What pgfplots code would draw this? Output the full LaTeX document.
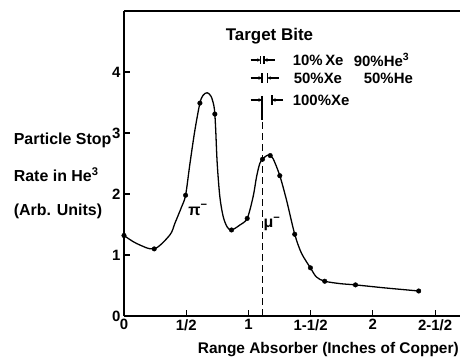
\documentclass[border=0pt]{standalone}
\usepackage{pgfplots}
\pgfplotsset{compat=1.18}
\usepackage{fontspec}
\setmainfont{Liberation Sans}
\usetikzlibrary{arrows.meta}
\begin{document}
\begin{tikzpicture}
\begin{axis}[at={(0,0)}, anchor=south west, scale only axis,
  width=336bp, height=305bp,
  xmin=0, xmax=2.7, ymin=0, ymax=5,
  axis lines=left, axis line style={-, line width=1.3pt},
  tick align=inside, major tick length=6bp,
  tick style={line width=1.1pt, black},
  xtick={0,0.5,1,1.5,2,2.5}, xticklabels={0,1/2,1,1-1/2,2,2-1/2},
  ytick={0,1,2,3,4}, yticklabels={0,1,2,3,4},
  ticklabel style={font=\fontsize{15}{17}\selectfont\bfseries},
  clip=false]
\draw[line width=1.3pt] (rel axis cs:0,1) -- (rel axis cs:1,1);
\addplot[smooth, tension=0.5, line width=1.3pt, black] coordinates {
(0,1.32) (0.10,1.19) (0.243,1.10) (0.369,1.33) (0.409,1.52) (0.463,1.79)
(0.495,1.98) (0.530,2.50) (0.570,3.05) (0.610,3.49) (0.636,3.62) (0.669,3.66)
(0.700,3.60) (0.722,3.45) (0.730,3.31) (0.737,3.05) (0.749,2.50) (0.770,1.96)
(0.797,1.63) (0.829,1.46) (0.864,1.41) (0.93,1.49) (0.99,1.60) (1.038,1.96)
(1.065,2.28) (1.091,2.50) (1.113,2.57) (1.14,2.62) (1.167,2.64) (1.198,2.58)
(1.252,2.30) (1.306,1.90) (1.372,1.34) (1.426,1.03) (1.498,0.79) (1.546,0.64)
(1.613,0.57) (1.74,0.53) (1.86,0.51) (2.1,0.46) (2.368,0.41)};
\addplot[only marks, mark=*, mark size=2.3pt, black] coordinates {
(0,1.32) (0.243,1.10) (0.495,1.98) (0.61,3.49) (0.73,3.31) (0.864,1.41)
(0.99,1.60) (1.113,2.57) (1.175,2.63) (1.252,2.30) (1.372,1.34) (1.498,0.79)
(1.613,0.57) (1.86,0.51) (2.368,0.41)};
\addplot[black, line width=1.1pt, dash pattern=on 7bp off 4bp] coordinates {(1.11,0) (1.11,3.50)};
\end{axis}
% annotations (absolute bp, origin = axis lower-left corner)
\begin{scope}[line width=1.1pt, font=\fontsize{16}{19}\selectfont\bfseries]
\node[anchor=west, font=\fontsize{17}{20}\selectfont\bfseries] at (98bp,280bp) {Target Bite};
\node[anchor=west, font=\fontsize{15}{18}\selectfont\bfseries] at (165bp,256bp) {10\%\,Xe};
\node[anchor=west, font=\fontsize{15}{18}\selectfont\bfseries] at (226bp,256bp) {90\%He\textsuperscript{3}};
\node[anchor=west, font=\fontsize{15}{18}\selectfont\bfseries] at (166bp,238bp) {50\%Xe};
\node[anchor=west, font=\fontsize{15}{18}\selectfont\bfseries] at (236bp,238bp) {50\%He};
\node[anchor=west, font=\fontsize{15}{18}\selectfont\bfseries] at (165bp,216bp) {100\%Xe};
% row 1
\draw[-{Stealth[length=3.5bp,width=3.5bp]}] (126.7bp,256bp) -- (136.7bp,256bp);
\draw (136.7bp,252bp) -- (136.7bp,260bp);
\draw (140bp,252bp) -- (140bp,260bp);
\draw[-{Stealth[length=3.5bp,width=3.5bp]}] (150.7bp,256bp) -- (140bp,256bp);
% row 2
\draw[-{Stealth[length=3.5bp,width=3.5bp]}] (126.7bp,238bp) -- (138bp,238bp);
\draw (138bp,233bp) -- (138bp,243bp);
\draw (143.3bp,233bp) -- (143.3bp,243bp);
\draw[-{Stealth[length=3.5bp,width=3.5bp]}] (154.7bp,238bp) -- (143.3bp,238bp);
% row 3
\draw[-{Stealth[length=3.5bp,width=3.5bp]}] (126.7bp,216bp) -- (138bp,216bp);
\draw (138bp,220bp) -- (138bp,196bp);
\draw (148bp,211bp) -- (148bp,221bp);
\draw[-{Stealth[length=3.5bp,width=3.5bp]}] (159bp,216bp) -- (148bp,216bp);
% y label
\node[anchor=west] at (-114bp,176bp) {Particle Stop};
\node[anchor=west] at (-114bp,141bp) {Rate in He\textsuperscript{3}};
\node[anchor=west] at (-114bp,105bp) {(Arb. Units)};
% x label
\node[anchor=west, font=\fontsize{15.5}{18}\selectfont\bfseries] at (70bp,-34bp) {Range Absorber (Inches of Copper)};
% curve labels
\node at (74bp,106bp) {π\textsuperscript{−}};
\node at (148bp,92bp) {μ\textsuperscript{−}};
\end{scope}
\pgfresetboundingbox
\path (-124bp,-42bp) rectangle (336bp,316bp);
\end{tikzpicture}
\end{document}
